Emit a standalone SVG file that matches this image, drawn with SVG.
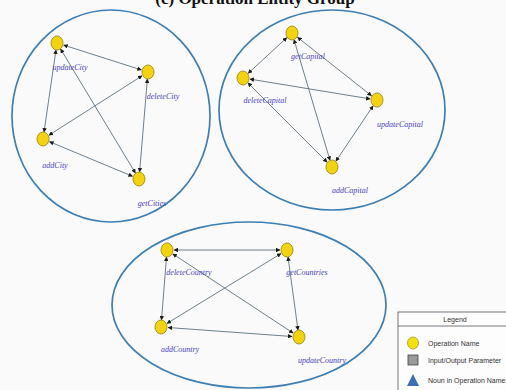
<svg xmlns="http://www.w3.org/2000/svg" width="506" height="390" viewBox="0 0 506 390">
<style>
.grp{fill:none;stroke:#3d7eb3;stroke-width:1.7}
.nd{fill:#f3d30f;stroke:#a8962a;stroke-width:1}
.lbl{font-family:"Liberation Serif",serif;font-style:italic;font-size:8px;fill:#4a40bd;text-anchor:middle}
.e{stroke:#5d7280;stroke-width:0.9;fill:none;marker-start:url(#ah);marker-end:url(#ah)}
.lg{font-family:"Liberation Sans",Arial,sans-serif;font-size:7px;fill:#333}
</style>
<defs>
<marker id="ah" viewBox="0 0 10 10" refX="9" refY="5" markerWidth="4.5" markerHeight="4.5" markerUnits="userSpaceOnUse" orient="auto-start-reverse">
<path d="M0,0 L10,5 L0,10 z" fill="#1a1a1a"/>
</marker>
</defs>
<rect width="506" height="390" fill="#fafafa"/>
<text x="255" y="4" font-family="Liberation Serif,serif" font-weight="bold" font-size="17" text-anchor="middle" fill="#111">(c) Operation Entity Group</text>

<g id="group-city"><ellipse class="grp" cx="111" cy="116" rx="99" ry="106"/></g>
<g id="group-capital"><ellipse class="grp" cx="332" cy="110" rx="113" ry="100"/></g>
<g id="group-country"><ellipse class="grp" cx="249" cy="305" rx="137" ry="83"/></g>

<g id="connectors">
<line class="e" x1="63.7" y1="45.1" x2="141.3" y2="69.9"/>
<line class="e" x1="56.0" y1="49.9" x2="44.0" y2="132.1"/>
<line class="e" x1="60.6" y1="49.0" x2="135.4" y2="173.0"/>
<line class="e" x1="142.1" y1="75.8" x2="48.9" y2="135.2"/>
<line class="e" x1="147.4" y1="79.0" x2="139.6" y2="172.0"/>
<line class="e" x1="49.5" y1="141.7" x2="132.5" y2="176.3"/>

<line class="e" x1="286.8" y1="37.7" x2="248.2" y2="73.3"/>
<line class="e" x1="297.5" y1="37.3" x2="371.5" y2="95.7"/>
<line class="e" x1="294.0" y1="39.7" x2="330.0" y2="160.3"/>
<line class="e" x1="249.9" y1="79.1" x2="370.1" y2="98.9"/>
<line class="e" x1="247.9" y1="82.9" x2="327.1" y2="162.1"/>
<line class="e" x1="373.1" y1="105.8" x2="335.9" y2="161.2"/>

<line class="e" x1="174" y1="250" x2="280" y2="250"/>
<line class="e" x1="166.5" y1="257.0" x2="161.5" y2="320.0"/>
<line class="e" x1="172.8" y1="253.9" x2="293.2" y2="333.1"/>
<line class="e" x1="281.0" y1="253.6" x2="167.0" y2="323.4"/>
<line class="e" x1="288.0" y1="256.9" x2="298.0" y2="330.1"/>
<line class="e" x1="168.0" y1="327.5" x2="292.0" y2="336.5"/>
</g>

<g id="updateCity"><ellipse class="nd" cx="57" cy="43" rx="6" ry="7"/><text class="lbl" x="70" y="70">updateCity</text></g>
<g id="deleteCity"><ellipse class="nd" cx="148" cy="72" rx="6" ry="7"/><text class="lbl" x="163" y="99">deleteCity</text></g>
<g id="addCity"><ellipse class="nd" cx="43" cy="139" rx="6" ry="7"/><text class="lbl" x="55" y="168">addCity</text></g>
<g id="getCities"><ellipse class="nd" cx="139" cy="179" rx="6" ry="7"/><text class="lbl" x="152" y="206">getCities</text></g>

<g id="getCapital"><ellipse class="nd" cx="292" cy="33" rx="6" ry="7"/><text class="lbl" x="308" y="59">getCapital</text></g>
<g id="deleteCapital"><ellipse class="nd" cx="243" cy="78" rx="6" ry="7"/><text class="lbl" x="265" y="103">deleteCapital</text></g>
<g id="updateCapital"><ellipse class="nd" cx="377" cy="100" rx="6" ry="7"/><text class="lbl" x="400" y="127">updateCapital</text></g>
<g id="addCapital"><ellipse class="nd" cx="332" cy="167" rx="6" ry="7"/><text class="lbl" x="350" y="193">addCapital</text></g>

<g id="deleteCountry"><ellipse class="nd" cx="167" cy="250" rx="6" ry="7"/><text class="lbl" x="189" y="275">deleteCountry</text></g>
<g id="getCountries"><ellipse class="nd" cx="287" cy="250" rx="6" ry="7"/><text class="lbl" x="307" y="275">getCountries</text></g>
<g id="addCountry"><ellipse class="nd" cx="161" cy="327" rx="6" ry="7"/><text class="lbl" x="180" y="352">addCountry</text></g>
<g id="updateCountry"><ellipse class="nd" cx="299" cy="337" rx="6" ry="7"/><text class="lbl" x="322" y="363">updateCountry</text></g>

<g id="legend">
<rect x="398" y="312" width="112" height="82" fill="#fdfdfd" stroke="#555" stroke-width="0.8"/>
<line x1="398" y1="326" x2="506" y2="326" stroke="#555" stroke-width="0.8"/>
<text class="lg" x="455" y="322" text-anchor="middle">Legend</text>
<ellipse cx="413" cy="343" rx="5.5" ry="6" fill="#f3e012" stroke="#a8962a" stroke-width="0.8"/>
<text class="lg" x="428" y="345.5">Operation Name</text>
<rect x="408" y="355" width="10" height="10" fill="#9a9a9a" stroke="#444" stroke-width="0.8"/>
<text class="lg" x="428" y="362.5">Input/Output Parameter</text>
<path d="M413,374 L419,386 L407,386 z" fill="#3c6fb0"/>
<text class="lg" x="428" y="382.5">Noun in Operation Name</text>
</g>
</svg>
